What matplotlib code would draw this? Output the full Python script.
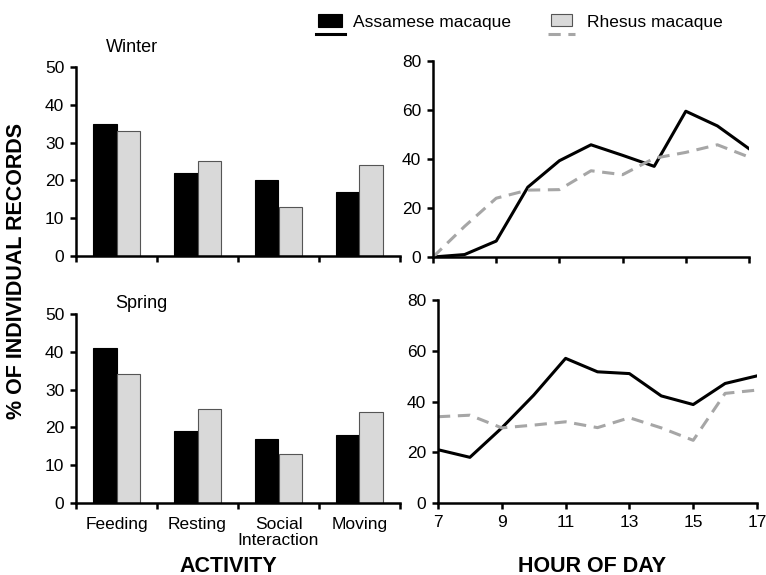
import matplotlib
matplotlib.use("Agg")
import matplotlib.pyplot as plt
from matplotlib.patches import Rectangle
from matplotlib.lines import Line2D
import numpy as np

plt.rcParams['font.family'] = ['Liberation Sans', 'DejaVu Sans']

categories = ["Feeding", "Resting", "Social\nInteraction", "Moving"]
winter_assamese = [35, 22, 20, 17]
winter_rhesus = [33, 25, 13, 24]
spring_assamese = [41, 19, 17, 18]
spring_rhesus = [34, 25, 13, 24]

hours = [7, 8, 9, 10, 11, 12, 13, 14, 15, 16, 17]
winter_line_assamese = [0, 1, 6.5, 28.5, 39.3, 45.8, 41.5, 37, 59.5, 53.5, 44.2]
winter_line_rhesus = [0, 12.5, 24, 27.3, 27.5, 35.2, 33.6, 40.3, 42.7, 45.8, 40.8]
spring_line_assamese = [21, 18, 29.6, 42.5, 57, 51.7, 51, 42.2, 38.8, 47.1, 50.1]
spring_line_rhesus = [34, 34.6, 29.6, 30.7, 32, 29.7, 33.6, 29.6, 24.7, 43.2, 44.5]

W, H = 766, 575
fig = plt.figure(figsize=(W / 100, H / 100), dpi=100)

def box(x0, y0, x1, y1):
    return [x0 / W, 1 - y1 / H, (x1 - x0) / W, (y1 - y0) / H]

FS = 12.5
BFS = 15.5
LW = 1.8
GRAY = '#d9d9d9'
DASH = '#a6a6a6'

def style(ax):
    for s in ['top', 'right']:
        ax.spines[s].set_visible(False)
    for s in ['left', 'bottom']:
        ax.spines[s].set_linewidth(LW)
        ax.spines[s].set_color('black')
    ax.tick_params(axis='both', direction='out', width=LW, length=4, pad=4.5,
                   labelsize=FS, colors='black')

def bar_panel(rect, a, r, title, tx, ty, show_labels):
    ax = fig.add_axes(box(*rect))
    x = np.arange(len(categories))
    bw = 0.29
    ax.bar(x - bw / 2, a, width=bw, color='black', edgecolor='black', linewidth=0.8)
    ax.bar(x + bw / 2, r, width=bw, color=GRAY, edgecolor='#555555', linewidth=0.8)
    ax.set_xlim(-0.5, len(categories) - 0.5)
    ax.set_ylim(0, 50)
    ax.set_yticks([0, 10, 20, 30, 40, 50])
    ax.set_xticks(np.arange(len(categories) + 1) - 0.5)
    ax.set_xticklabels([])
    style(ax)
    if show_labels:
        for i, c in enumerate(categories):
            ax.text(i, -0.075, c, transform=ax.get_xaxis_transform(), ha='center', va='top',
                    fontsize=FS, linespacing=1.1)
    fig.text(tx / W, 1 - ty / H, title, fontsize=13, ha='left', va='center')
    return ax

def line_panel(rect, a, r, show_labels):
    ax = fig.add_axes(box(*rect))
    ax.plot(hours, a, color='black', lw=2.2)
    ax.plot(hours, r, color=DASH, lw=2.2, dashes=(4, 2.5))
    ax.set_xlim(7, 17)
    ax.set_ylim(0, 80)
    ax.set_yticks([0, 20, 40, 60, 80])
    ax.set_xticks([7, 9, 11, 13, 15, 17])
    if not show_labels:
        ax.set_xticklabels([])
    style(ax)
    ax.spines['left'].set_zorder(5)
    return ax

bar_panel((76, 67, 400, 256), winter_assamese, winter_rhesus, "Winter", 106, 47, False)
bar_panel((76, 314, 400, 503), spring_assamese, spring_rhesus, "Spring", 115, 303, True)
line_panel((433, 61, 749, 257), winter_line_assamese, winter_line_rhesus, False)
line_panel((438, 300, 757, 503), spring_line_assamese, spring_line_rhesus, True)

fig.text(17 / W, 1 - 271 / H, "% OF INDIVIDUAL RECORDS", rotation=90, ha='center', va='center',
         fontsize=BFS, fontweight='bold')
fig.text(228 / W, 1 - 566 / H, "ACTIVITY", ha='center', va='center', fontsize=BFS, fontweight='bold')
fig.text(592 / W, 1 - 566 / H, "HOUR OF DAY", ha='center', va='center', fontsize=BFS, fontweight='bold')

# legend
def fig_rect(x0, y0, x1, y1, **kw):
    fig.add_artist(Rectangle((x0 / W, 1 - y1 / H), (x1 - x0) / W, (y1 - y0) / H,
                             transform=fig.transFigure, **kw))

fig_rect(318, 14, 342, 27, facecolor='black', edgecolor='black', lw=0.8)
fig.add_artist(Line2D([316 / W, 345 / W], [1 - 34 / H, 1 - 34 / H], color='black', lw=2.2,
                      transform=fig.transFigure))
fig.text(353 / W, 1 - 23 / H, "Assamese macaque", ha='left', va='center', fontsize=FS)

fig_rect(551, 14, 572, 26, facecolor=GRAY, edgecolor='#555555', lw=0.8)
fig.add_artist(Line2D([548 / W, 575 / W], [1 - 34 / H, 1 - 34 / H], color=DASH, lw=2.2,
                      dashes=(4, 2.5), transform=fig.transFigure))
fig.text(587 / W, 1 - 23 / H, "Rhesus macaque", ha='left', va='center', fontsize=FS)

fig.savefig("out.png", dpi=100)
